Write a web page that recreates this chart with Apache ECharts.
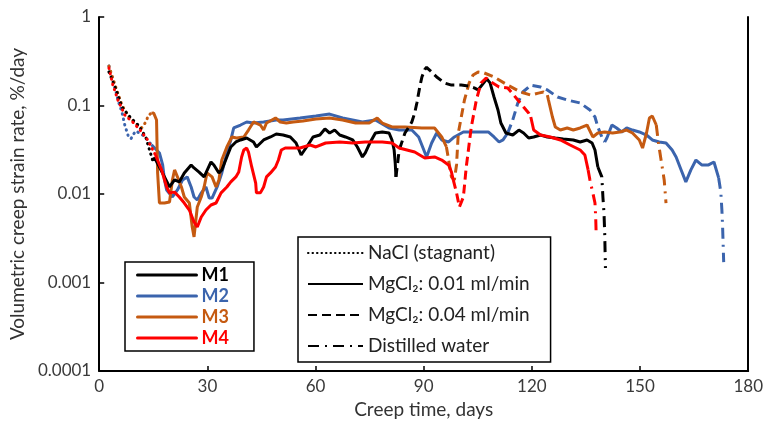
<!DOCTYPE html>
<html>
<head>
<meta charset="utf-8">
<script src="https://cdn.jsdelivr.net/npm/echarts@6/dist/echarts.min.js"></script>
<style>html,body{margin:0;padding:0;background:#fff}#c{width:766px;height:429px}</style>
</head>
<body>
<div id="c"></div>
<script>
// ---- Data: [creep time (days), volumetric creep strain rate (%/day)] ----
const xTicks = [0, 30, 60, 90, 120, 150, 180];
const yTickLabels = ['0.0001', '0.001', '0.01', '0.1', '1'];
const sampleNames = ['M1', 'M2', 'M3', 'M4'];
const fluidNames = ['NaCl (stagnant)', 'MgCl\u2082: 0.01 ml/min', 'MgCl\u2082: 0.04 ml/min', 'Distilled water'];

// M1
const m1NaCl = [[2.7,0.239],[4.7,0.150],[6.3,0.096],[8.8,0.072],[11.0,0.059],[12.9,0.044],[13.7,0.034],[14.8,0.0242]];
const m1Mg001a = [[14.8,0.0242],[15.4,0.0255],[18.1,0.0156],[19.5,0.0120],[20.9,0.0144],[22.2,0.0137],[23.6,0.0173],[25.5,0.0213],[26.3,0.0197],[27.7,0.0177],[29.1,0.0156],[31.0,0.0230],[31.8,0.0213],[33.2,0.0173],[34.0,0.0187],[35.4,0.0262],[36.5,0.0340],[37.9,0.0387],[39.2,0.0408],[40.9,0.0429],[42.8,0.0387],[43.6,0.0340],[45.6,0.0408],[47.5,0.0441],[49.1,0.0476],[51.0,0.0464],[53.0,0.0441],[54.6,0.0377],[56.0,0.0276],[57.9,0.0358],[59.3,0.0441],[61.2,0.0464],[62.6,0.0543],[63.9,0.0489],[65.3,0.0528],[66.7,0.0464],[68.3,0.0441],[70.3,0.0408],[71.6,0.0340],[73.0,0.0262],[73.8,0.0291],[75.2,0.0387],[76.6,0.0489],[78.5,0.0502],[80.4,0.0489],[81.2,0.0408],[81.8,0.0314],[82.1,0.0224],[82.3,0.0156]];
const m1Mg004 = [[82.3,0.0156],[83.2,0.0314],[84.8,0.0489],[85.9,0.0572],[86.7,0.0651],[87.5,0.0823],[88.1,0.1067],[88.9,0.1618],[89.5,0.210],[90.3,0.255],[90.8,0.270],[91.7,0.250],[93.6,0.210],[95.8,0.1795],[97.7,0.170],[100.4,0.170],[102.4,0.166],[104.0,0.158],[105.1,0.150]];
const m1Mg001b = [[105.1,0.150],[106.8,0.184],[107.5,0.200],[108.4,0.180],[109.5,0.1247],[110.6,0.089],[111.4,0.0634],[112.8,0.0489],[114.7,0.0464],[116.4,0.0528],[117.7,0.0489],[119.1,0.0429],[120.5,0.0441],[122.4,0.0464],[124.3,0.0441],[126.5,0.0429],[128.7,0.0418],[131.5,0.0408],[133.4,0.0387],[135.3,0.0408],[136.7,0.0377],[137.5,0.0314],[138.3,0.0202]];
const m1Water = [[138.3,0.0202],[139.4,0.0156],[139.7,0.00925],[140.0,0.0061],[140.2,0.0036],[140.4,0.00146]];

// M2
const m2NaCl = [[2.7,0.279],[4.4,0.158],[5.2,0.115],[6.3,0.0845],[7.1,0.060],[8.0,0.046],[8.8,0.042],[9.6,0.048],[10.2,0.0515],[12.5,0.045],[14.5,0.036]];
const m2Mg001a = [[14.5,0.036],[15.9,0.0314],[16.7,0.0291],[17.6,0.0213],[18.1,0.0144],[18.7,0.0111],[20.3,0.00925],[21.7,0.0111],[23.1,0.0144],[24.4,0.0156],[25.5,0.0120],[26.3,0.00925],[27.2,0.00855],[28.3,0.0103],[29.6,0.0120],[30.5,0.00901],[31.3,0.00901],[32.7,0.0120],[34.0,0.0173],[35.4,0.0291],[36.5,0.0408],[37.3,0.0557],[39.2,0.0602],[40.9,0.0651],[42.8,0.0634],[45.6,0.0651],[49.1,0.0686],[51.0,0.0686],[55.7,0.0723],[60.1,0.0761],[63.9,0.080],[67.5,0.0723],[73.0,0.0651],[76.6,0.0686],[80.4,0.0557],[83.2,0.0528],[86.7,0.0528],[88.6,0.0441],[90.8,0.0262],[92.2,0.0377],[93.6,0.0489],[95.0,0.0408],[96.9,0.0387],[98.5,0.0441],[101.0,0.0502],[104.0,0.0502],[107.9,0.0502],[109.5,0.0441],[110.9,0.0387],[112.0,0.0408],[113.3,0.0489]];
const m2Mg004 = [[113.3,0.0489],[114.7,0.0686],[116.1,0.1067],[117.5,0.1421],[119.7,0.170],[122.4,0.162],[124.3,0.150],[127.1,0.1247],[129.8,0.1154],[133.4,0.1067],[136.1,0.089],[137.5,0.0742],[138.3,0.0572],[139.4,0.0441],[140.2,0.0387]];
const m2Mg001b = [[140.2,0.0387],[140.8,0.0429],[142.2,0.0602],[143.5,0.0557],[144.9,0.0502],[146.3,0.0557],[147.9,0.0528],[149.8,0.0502],[151.8,0.0464],[153.4,0.0408],[155.3,0.0387],[157.2,0.0377],[158.9,0.0314],[160.0,0.0262],[161.4,0.0187],[162.7,0.0137],[164.1,0.0187],[165.5,0.0242],[167.1,0.0213],[169.0,0.0213],[170.5,0.0230],[171.8,0.0152]];
const m2Water = [[171.8,0.0152],[172.4,0.0105],[172.7,0.00659],[172.9,0.00424],[173.2,0.0017]];

// M3
const m3NaCl = [[2.7,0.279],[4.4,0.17],[6.3,0.101],[8.2,0.074],[10.2,0.062],[11.8,0.056],[12.9,0.065],[13.7,0.078],[14.5,0.082]];
const m3Mg001a = [[14.5,0.082],[15.1,0.0823],[15.9,0.0686],[16.2,0.0173],[16.7,0.00791],[18.1,0.00791],[19.5,0.00812],[20.3,0.0144],[20.9,0.0187],[21.7,0.0156],[22.8,0.0120],[23.6,0.00925],[25.0,0.00791],[25.8,0.00424],[26.3,0.00327],[27.2,0.00713],[28.3,0.00925],[29.1,0.0120],[29.9,0.0173],[31.3,0.0156],[32.4,0.0120],[33.2,0.0144],[34.0,0.0242],[35.4,0.0340],[36.8,0.0441],[38.1,0.0429],[40.1,0.0441],[41.4,0.0528],[42.8,0.0651],[44.7,0.0602],[45.6,0.0528],[46.4,0.0634],[48.9,0.0723],[50.2,0.0651],[51.9,0.0634],[53.8,0.0651],[56.5,0.0668],[60.1,0.0704],[63.9,0.0723],[67.5,0.0686],[71.1,0.0634],[74.9,0.0634],[77.1,0.0723],[78.5,0.0634],[81.2,0.0572],[84.8,0.0572],[89.5,0.0557],[93.0,0.0557],[95.0,0.0441],[96.3,0.0340]];
const m3Mg004 = [[96.3,0.0340],[97.7,0.0156],[98.5,0.0144],[99.1,0.0213],[99.6,0.0489],[101.3,0.1154],[102.6,0.1795],[103.7,0.221],[105.1,0.239],[106.8,0.233],[109.5,0.210],[113.3,0.170],[116.9,0.142],[119.7,0.131],[121.8,0.138],[123.2,0.142],[124.3,0.131]];
const m3Mg001b = [[124.3,0.131],[124.6,0.1154],[125.7,0.0742],[126.5,0.0572],[127.9,0.0528],[129.8,0.0557],[131.5,0.0528],[133.4,0.0557],[135.3,0.0602],[136.9,0.0441],[138.3,0.0489],[140.2,0.0502],[142.4,0.0489],[144.4,0.0502],[146.3,0.0528],[147.9,0.0489],[149.8,0.0408],[150.7,0.0331],[151.8,0.0489],[152.6,0.0723],[153.4,0.0761],[154.5,0.0602]];
const m3Water = [[154.5,0.0602],[155.1,0.0377],[156.7,0.0144],[157.2,0.00791]];

// M4
const m4NaCl = [[2.7,0.265],[3.8,0.17],[5.2,0.115],[7.1,0.078],[9.3,0.065],[11.3,0.053],[13.4,0.041],[15.6,0.0276]];
const m4Mg001a = [[15.6,0.0276],[15.9,0.0276],[17.3,0.0187],[18.7,0.0120],[19.5,0.0103],[20.9,0.0105],[22.2,0.00925],[23.6,0.00791],[25.0,0.00659],[26.3,0.00483],[27.2,0.00424],[28.3,0.0055],[29.6,0.00659],[31.0,0.00751],[32.4,0.00791],[33.8,0.0103],[35.4,0.0120],[36.5,0.0137],[37.9,0.0156],[38.7,0.0177],[39.5,0.0262],[40.1,0.0314],[40.9,0.0331],[41.4,0.0298],[42.3,0.0202],[43.4,0.0133],[43.6,0.0103],[44.7,0.0103],[45.6,0.0120],[46.4,0.0156],[47.5,0.0173],[48.9,0.0202],[49.7,0.0242],[50.5,0.0314],[51.6,0.0331],[55.7,0.0331],[58.5,0.0358],[60.1,0.0340],[62.8,0.0377],[66.7,0.0387],[70.3,0.0377],[73.8,0.0387],[78.5,0.0387],[81.2,0.0377],[83.2,0.0331],[87.5,0.0298],[90.3,0.0255],[93.0,0.0262],[95.0,0.0242],[96.9,0.0213],[97.7,0.0177],[98.2,0.0144]];
const m4Mg004 = [[98.2,0.0144],[99.1,0.0103],[99.9,0.00713],[101.0,0.00925],[101.8,0.0202],[103.2,0.0572],[104.6,0.1154],[105.9,0.1795],[107.3,0.2045],[108.7,0.1842],[110.9,0.1618],[113.3,0.1577],[116.1,0.1154],[117.7,0.0961],[119.1,0.0823],[119.7,0.0742]];
const m4Mg001b = [[119.7,0.0742],[120.5,0.0528],[122.4,0.0464],[125.1,0.0441],[127.9,0.0408],[130.6,0.0358],[133.4,0.0314],[134.7,0.0276],[135.6,0.0187]];
const m4Water = [[135.6,0.0187],[136.1,0.0144],[136.9,0.0103],[137.5,0.00791],[137.7,0.0055],[137.8,0.0039]];

// ---- Styling ----
const colors = {M1:'#000000', M2:'#3b64ad', M3:'#c55a11', M4:'#ff0000'};
const dashStyles = {
  NaCl: {type:[0.5,5], cap:'round', width:3},
  Mg001: {type:'solid', width:3},
  Mg004: {type:[9,5], width:3},
  Water: {type:[11,6,2,6], width:3}
};
const FONT = "Lato, 'DejaVu Sans', sans-serif";

function seg(name, data, styleKey){
  return {
    name: name, type:'line', data: data, symbol:'none', showSymbol:false,
    color: colors[name],
    lineStyle: Object.assign({color: colors[name]}, dashStyles[styleKey]),
    emphasis:{disabled:true}, silent:true, z:2
  };
}

const groups = {
  M1:[m1NaCl,m1Mg001a,m1Mg004,m1Mg001b,m1Water],
  M2:[m2NaCl,m2Mg001a,m2Mg004,m2Mg001b,m2Water],
  M3:[m3NaCl,m3Mg001a,m3Mg004,m3Mg001b,m3Water],
  M4:[m4NaCl,m4Mg001a,m4Mg004,m4Mg001b,m4Water]
};
const keys = ['NaCl','Mg001','Mg004','Mg001','Water'];
const series = [];
['M2','M3','M1','M4'].forEach(function(n){
  groups[n].forEach(function(d,i){ series.push(seg(n,d,keys[i])); });
});
// empty series that only feed the fluid legend
const fluidKeys = ['NaCl','Mg001','Mg004','Water'];
fluidNames.forEach(function(fn,i){
  series.push({name:fn, type:'line', data:[], symbol:'none', color:'#000',
    lineStyle:Object.assign({color:'#000'}, dashStyles[fluidKeys[i]], fluidKeys[i]==='NaCl'?{width:2,type:[0.5,4]}:{})});
});

const chart = echarts.init(document.getElementById('c'), null, {renderer:'canvas'});
chart.setOption({
  animation:false,
  backgroundColor:'#fff',
  grid:{left:94, right:17, top:17, bottom:58, containLabel:false},
  xAxis:{
    type:'value', min:0, max:180, interval:30,
    name:'Creep time, days', nameLocation:'middle', nameGap:29,
    nameTextStyle:{fontFamily:FONT, fontSize:19, color:'#333'},
    axisLine:{show:true, onZero:false, lineStyle:{color:'#000', width:2}},
    axisTick:{show:true, inside:true, length:5, lineStyle:{color:'#000', width:1.5}},
    axisLabel:{fontFamily:FONT, fontSize:17, color:'#3a3a3a', margin:7,
      formatter:function(v){ return xTicks.indexOf(v)>=0 ? String(v) : ''; }},
    splitLine:{show:false}
  },
  yAxis:[{
    type:'log', logBase:10, min:0.0001, max:1,
    name:'Volumetric creep strain rate, %/day', nameLocation:'middle', nameGap:66,
    nameTextStyle:{fontFamily:FONT, fontSize:19, color:'#333'},
    axisLine:{show:true, lineStyle:{color:'#000', width:2}},
    axisTick:{show:true, inside:true, length:5, lineStyle:{color:'#000', width:1.5}},
    minorTick:{show:false},
    axisLabel:{fontFamily:FONT, fontSize:17, color:'#3a3a3a', margin:8,
      formatter:function(v){ var k=Math.round(Math.log10(v))+4; return yTickLabels[k]||''; }},
    splitLine:{show:false}
  },{
    type:'log', logBase:10, min:0.0001, max:1, position:'right',
    axisLine:{show:true, lineStyle:{color:'#000', width:2}},
    axisTick:{show:false}, axisLabel:{show:false}, splitLine:{show:false}
  }],
  legend:[{
    data: sampleNames.map(function(n){ return {name:n, textStyle:{color:colors[n]}}; }),
    orient:'vertical', left:125, top:262,
    padding:[4,25,4,11], itemGap:3, itemWidth:59, itemHeight:18,
    borderColor:'#000', borderWidth:1.5, backgroundColor:'#fff',
    textStyle:{fontFamily:FONT, fontSize:18, fontWeight:'bold', lineHeight:18},
    lineStyle:{type:'solid', width:3},
    itemStyle:{opacity:0},
    selectedMode:false
  },{
    data: fluidNames,
    orient:'vertical', left:298, top:237,
    padding:[6,21,6,9], itemGap:11, itemWidth:55, itemHeight:20,
    borderColor:'#000', borderWidth:1.5, backgroundColor:'#fff',
    textStyle:{fontFamily:FONT, fontSize:19, color:'#222', lineHeight:20},
    itemStyle:{opacity:0},
    selectedMode:false
  }],
  series: series
});
</script>
</body>
</html>
